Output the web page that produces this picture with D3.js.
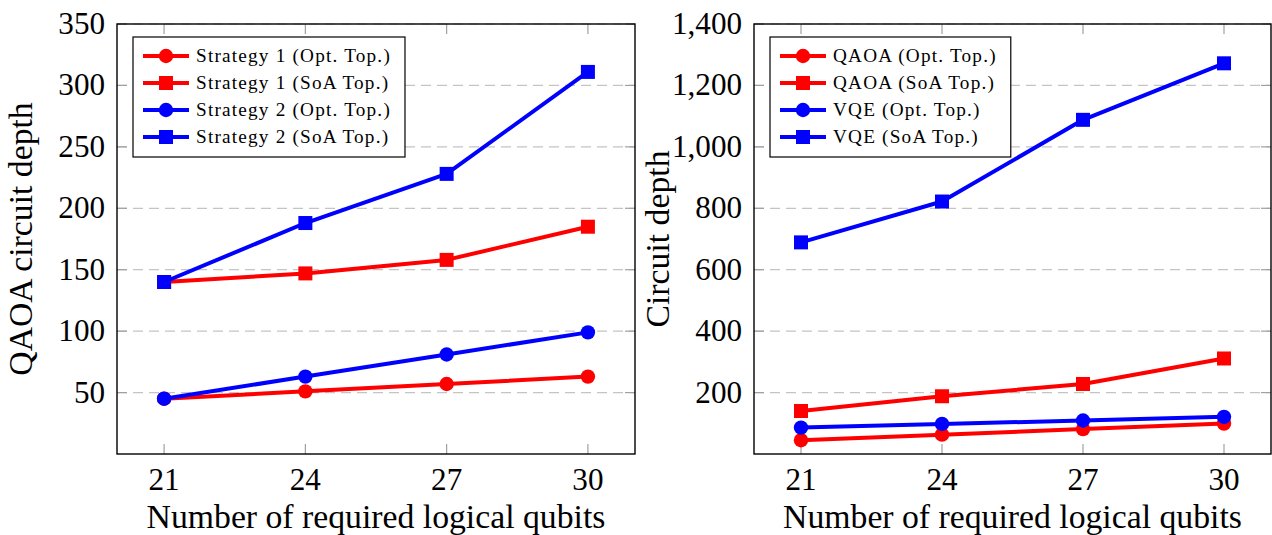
<!DOCTYPE html>
<html lang="en">
<head>
	<meta charset="utf-8">
	<title>Circuit depth</title>
	<script src="https://d3js.org/d3.v7.min.js"></script>
	<style>
	body { margin: 0; background: #fff; }
	svg text { font-family: "Liberation Serif", "DejaVu Serif", "Noto Serif", serif; fill: #000; }
	.grid line { stroke: #c4c4c4; stroke-width: 1.2px; stroke-dasharray: 10,6; }
	.tick-mark { stroke: #a0a0a0; stroke-width: 1.2px; }
	.frame { fill: none; stroke: #000; stroke-width: 1.4px; }
	.legend rect.box { fill: #fff; stroke: #000; stroke-width: 1.2px; }
	</style>
</head>
<body>
<script>
	// data
	var qubits = [21, 24, 27, 30];

	var s1Opt = [45, 51, 57, 63];
	var s1SoA = [140, 147, 158, 185];
	var s2Opt = [45, 63, 81, 99];
	var s2SoA = [140, 188, 228, 311];

	var qaoaOpt = [45, 63, 81, 99];
	var qaoaSoA = [140, 188, 228, 311];
	var vqeOpt = [86, 98, 109, 121];
	var vqeSoA = [689, 822, 1088, 1272];

	var leftTicks = [50, 100, 150, 200, 250, 300, 350];
	var rightTicks = [200, 400, 600, 800, 1000, 1200, 1400];

	var w = 1272, h = 535;
	var svg = d3.select("body").append("svg")
		.attr("width", w)
		.attr("height", h);

	// pick font sizes so text widths match the original (whatever serif is installed)
	function fitSize(sample, target, spacing) {
		var t = svg.append("text").style("font-size", "40px")
			.style("letter-spacing", (spacing || 0) + "px").text(sample);
		var wd = t.node().getComputedTextLength();
		t.remove();
		return 40 * (target - (spacing || 0) * sample.length) / (wd - (spacing || 0) * sample.length);
	}
	var tickSize = fitSize("1,400", 70, 0);
	var labelSize = fitSize("Number of required logical qubits", 459, 0);
	var legSize = fitSize("Strategy 1 (Opt. Top.)", 195, 1.2);

	function panel(opt) {
		var x = d3.scaleLinear().domain([20, 31]).range([opt.left, opt.right]);
		var y = d3.scaleLinear().domain(opt.ydomain).range([opt.bottom, opt.top]);
		var g = svg.append("g");

		// y grid (dashed)
		g.append("g").attr("class", "grid")
		  .selectAll("line")
		  .data(opt.yticks)
		  .enter().append("line")
			.attr("x1", opt.left).attr("x2", opt.right)
			.attr("y1", function(d) { return y(d); })
			.attr("y2", function(d) { return y(d); });

		// tick marks inside the frame
		var tl = 10;
		opt.yticks.forEach(function(d) {
			g.append("line").attr("class", "tick-mark")
				.attr("x1", opt.left).attr("x2", opt.left + tl)
				.attr("y1", y(d)).attr("y2", y(d));
			g.append("line").attr("class", "tick-mark")
				.attr("x1", opt.right - tl).attr("x2", opt.right)
				.attr("y1", y(d)).attr("y2", y(d));
		});
		qubits.forEach(function(d) {
			g.append("line").attr("class", "tick-mark")
				.attr("x1", x(d)).attr("x2", x(d))
				.attr("y1", opt.bottom).attr("y2", opt.bottom - tl);
			g.append("line").attr("class", "tick-mark")
				.attr("x1", x(d)).attr("x2", x(d))
				.attr("y1", opt.top).attr("y2", opt.top + tl);
		});

		g.append("rect").attr("class", "frame")
			.attr("x", opt.left).attr("y", opt.top)
			.attr("width", opt.right - opt.left)
			.attr("height", opt.bottom - opt.top);

		// tick labels
		g.selectAll("text.yl")
		  .data(opt.yticks)
		  .enter().append("text")
			.style("font-size", tickSize + "px")
			.attr("x", opt.left - 12)
			.attr("y", function(d) { return y(d); })
			.attr("dy", "0.32em")
			.attr("text-anchor", "end")
			.text(opt.fmt);

		g.selectAll("text.xl")
		  .data(qubits)
		  .enter().append("text")
			.style("font-size", tickSize + "px")
			.attr("x", function(d) { return x(d); })
			.attr("y", opt.bottom + 36)
			.attr("text-anchor", "middle")
			.text(function(d) { return d; });

		// axis labels
		g.append("text")
			.style("font-size", labelSize + "px")
			.attr("x", (opt.left + opt.right) / 2)
			.attr("y", 528)
			.attr("text-anchor", "middle")
			.text("Number of required logical qubits");

		g.append("text")
			.style("font-size", labelSize + "px")
			.attr("transform", "translate(" + (opt.left - 85) + "," + ((opt.top + opt.bottom) / 2) + ") rotate(-90)")
			.attr("text-anchor", "middle")
			.text(opt.ylabel);

		// series
		var line = d3.line()
			.x(function(d, i) { return x(qubits[i]); })
			.y(function(d) { return y(d); });

		opt.series.forEach(function(s) {
			g.append("path")
				.datum(s.values)
				.attr("d", line)
				.attr("fill", "none")
				.attr("stroke", s.color)
				.attr("stroke-width", 4)
				.attr("stroke-linejoin", "round");
			s.values.forEach(function(v, i) {
				drawMark(g, s.mark, x(qubits[i]), y(v), s.color);
			});
		});

		// legend
		var lg = g.append("g").attr("class", "legend");
		var box = lg.append("rect").attr("class", "box");
		var bx = opt.left + 16, by = opt.top + 13;
		var maxEnd = 0;
		opt.series.forEach(function(s, i) {
			var ly = by + 19 + i * 27;
			lg.append("line")
				.attr("x1", bx + 10).attr("x2", bx + 56)
				.attr("y1", ly).attr("y2", ly)
				.attr("stroke", s.color).attr("stroke-width", 4);
			drawMark(lg, s.mark, bx + 33, ly, s.color);
			var t = lg.append("text")
				.style("font-size", legSize + "px")
				.style("letter-spacing", "1.2px")
				.attr("x", bx + 63)
				.attr("y", ly)
				.attr("dy", "0.33em")
				.text(s.name);
			var bb = t.node().getBBox();
			maxEnd = Math.max(maxEnd, bb.x + bb.width);
		});
		box.attr("x", bx).attr("y", by)
			.attr("width", maxEnd + 14 - bx)
			.attr("height", 120);
	}

	function drawMark(g, mark, cx, cy, color) {
		if (mark === "circle") {
			g.append("circle")
				.attr("cx", cx).attr("cy", cy).attr("r", 7.2)
				.attr("fill", color);
		} else {
			g.append("rect")
				.attr("x", cx - 7).attr("y", cy - 7)
				.attr("width", 14).attr("height", 14)
				.attr("fill", color);
		}
	}

	panel({
		left: 117, right: 635, top: 24, bottom: 454,
		ydomain: [0, 350],
		yticks: leftTicks,
		fmt: function(d) { return d; },
		ylabel: "QAOA circuit depth",
		series: [
			{ name: "Strategy 1 (Opt. Top.)", values: s1Opt, color: "#ff0000", mark: "circle" },
			{ name: "Strategy 1 (SoA Top.)", values: s1SoA, color: "#ff0000", mark: "square" },
			{ name: "Strategy 2 (Opt. Top.)", values: s2Opt, color: "#0000ff", mark: "circle" },
			{ name: "Strategy 2 (SoA Top.)", values: s2SoA, color: "#0000ff", mark: "square" }
		]
	});

	panel({
		left: 754, right: 1271, top: 24, bottom: 454,
		ydomain: [0, 1400],
		yticks: rightTicks,
		fmt: d3.format(","),
		ylabel: "Circuit depth",
		series: [
			{ name: "QAOA (Opt. Top.)", values: qaoaOpt, color: "#ff0000", mark: "circle" },
			{ name: "QAOA (SoA Top.)", values: qaoaSoA, color: "#ff0000", mark: "square" },
			{ name: "VQE (Opt. Top.)", values: vqeOpt, color: "#0000ff", mark: "circle" },
			{ name: "VQE (SoA Top.)", values: vqeSoA, color: "#0000ff", mark: "square" }
		]
	});
</script>
</body>
</html>
